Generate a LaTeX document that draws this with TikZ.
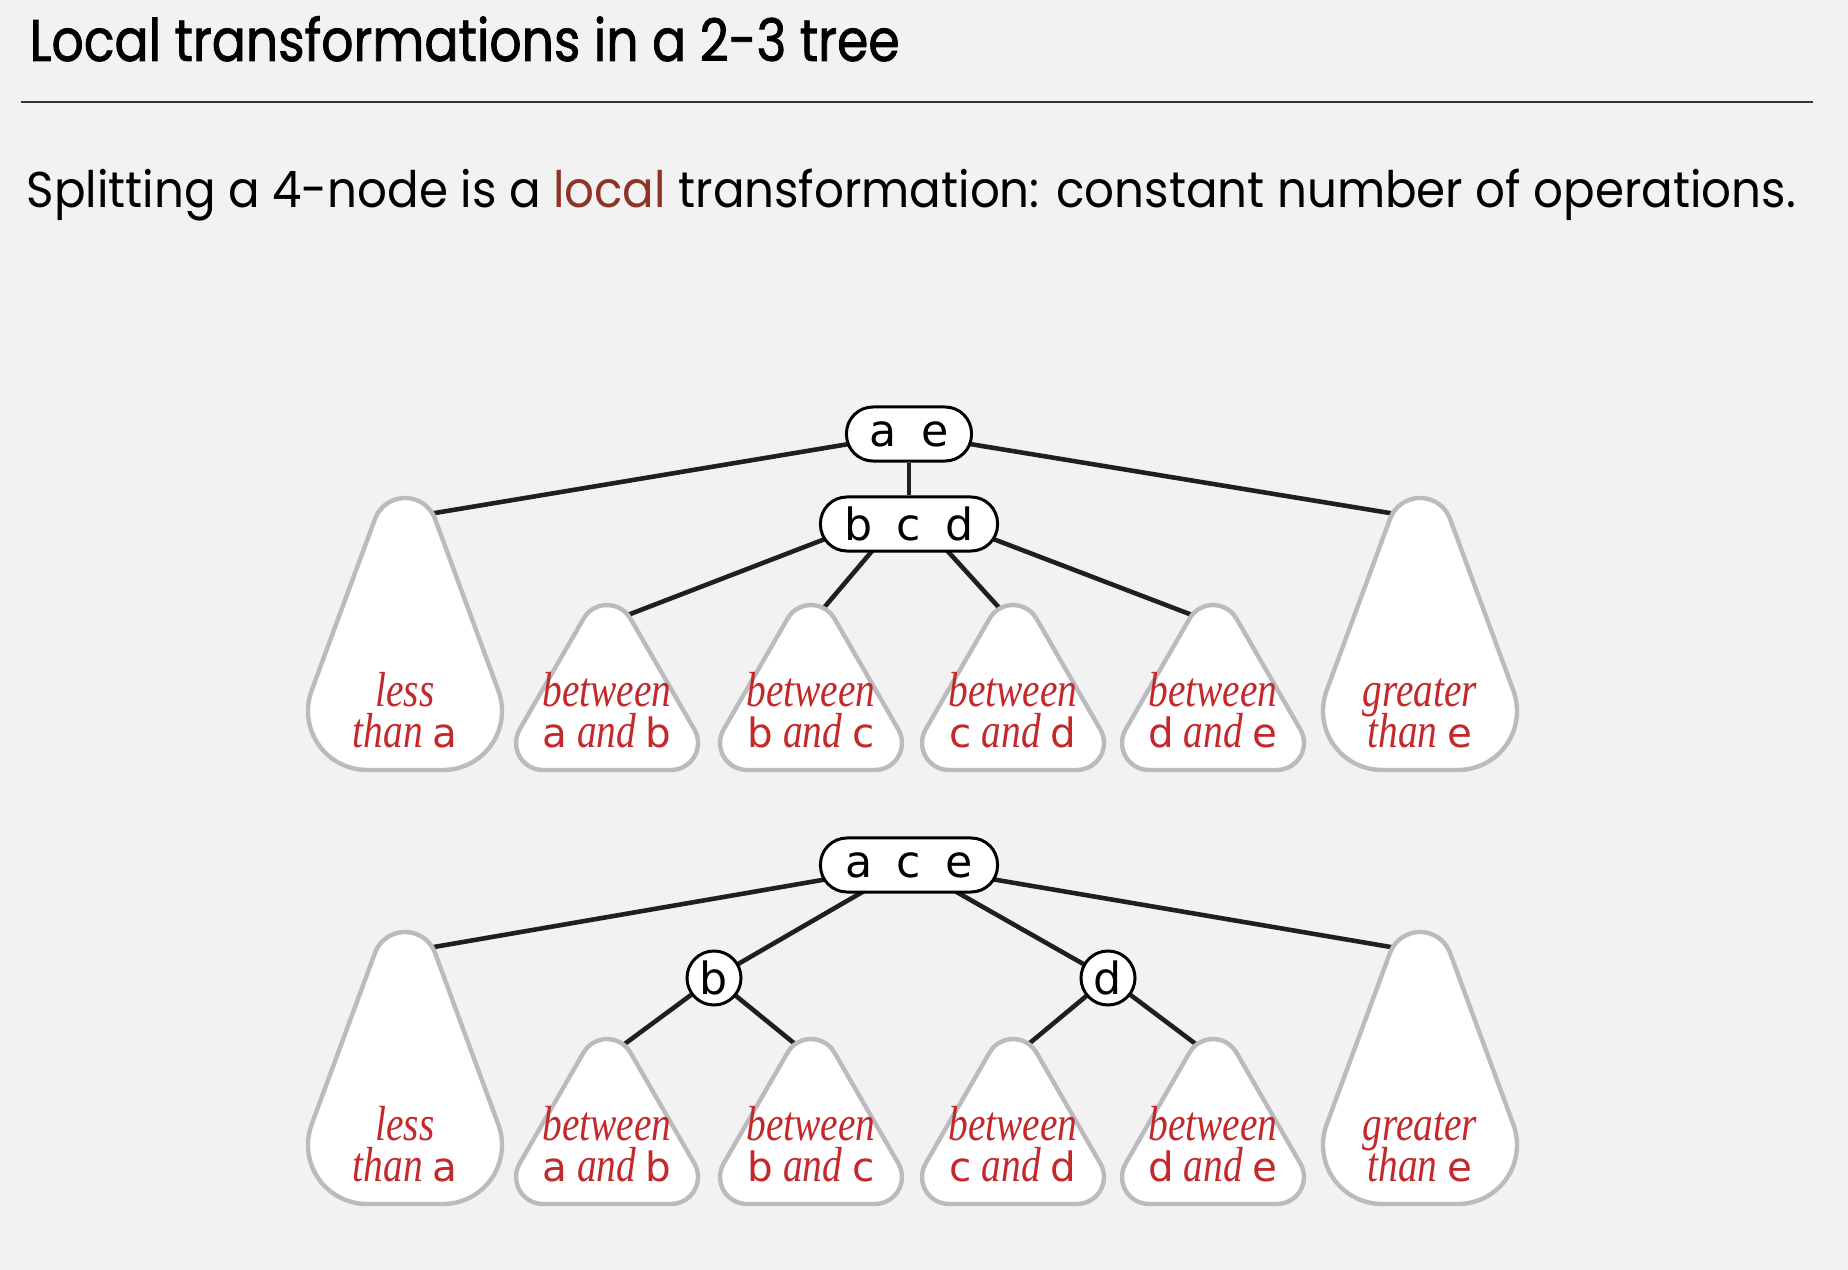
\documentclass[tikz,border=0pt]{standalone}
\usepackage{fontspec}
\setmainfont{Liberation Serif}
\newfontfamily\headfont{Poppins}[FakeStretch=0.86,FakeBold=1.3]
\newfontfamily\ledefont{Poppins}[FakeStretch=0.93]
\newfontfamily\keyfont{DejaVu Sans}
\newfontfamily\notefont{Liberation Serif}[FakeStretch=0.8]
\usetikzlibrary{calc}
\setlength{\lineskiplimit}{-20pt}

\definecolor{paper}{HTML}{F2F2F2}
\definecolor{notered}{HTML}{C4282A}
\definecolor{localred}{HTML}{8E3326}
\definecolor{subgray}{HTML}{BBBBBD}

\pgfdeclarelayer{paperlayer}
\pgfdeclarelayer{edgelayer}
\pgfsetlayers{paperlayer,edgelayer,main}

\newcommand{\kc}[1]{{\keyfont\upshape\fontsize{11.5}{13}\selectfont #1}}

% big subtree: name, apex x, apex y, first line, second line
\newcommand{\bigsub}[5]{%
  \draw[subtree,shift={(#2,#3)}] (0,272) -- (38,272) arc[start angle=90,end angle=-20.5,radius=59]
    -- (30,20.8) arc[start angle=-20.5,end angle=-159.5,radius=32]
    -- (-93.3,192.3) arc[start angle=200.5,end angle=90,radius=59] -- cycle;
  \coordinate (#1) at (#2,#3+20);
  \node[sublabel] (#1-text) at (#2,#3+249) {#4\\#5};}

% small subtree: name, apex x, apex y, first line, second line
\newcommand{\smallsub}[5]{%
  \draw[subtree,shift={(#2,#3)}] (0,165) -- (64,165) arc[start angle=90,end angle=-30,radius=27]
    -- (23.4,13.5) arc[start angle=-30,end angle=-150,radius=27]
    -- (-87.4,124.5) arc[start angle=210,end angle=90,radius=27] -- cycle;
  \coordinate (#1) at (#2,#3+18);
  \node[sublabel] (#1-text) at (#2,#3+142) {#4\\#5};}

\begin{document}
\begin{tikzpicture}[x=0.01cm,y=-0.01cm,
  keynode/.style={draw,fill=white,line width=0.85pt,rounded corners=0.265cm,minimum height=0.54cm,inner sep=0pt,font=\keyfont\fontsize{12.6}{14}\selectfont},
  keycircle/.style={draw,fill=white,line width=0.85pt,circle,minimum size=0.54cm,inner sep=0pt,font=\keyfont\fontsize{12.6}{14}\selectfont},
  link/.style={line width=1.3pt,black!88},
  subtree/.style={draw=subgray,fill=white,line width=1.25pt},
  sublabel/.style={anchor=base,inner sep=0pt,align=center,text=notered,font=\notefont\itshape\fontsize{14}{11.6}\selectfont}]

  \begin{pgfonlayer}{paperlayer}
    \fill[paper] (0,0) rectangle (1848,1270);
  \end{pgfonlayer}
  \useasboundingbox (0,0) rectangle (1848,1270);

  % heading
  \node[anchor=base west,inner sep=0pt,font=\headfont\fontsize{16.7}{20}\selectfont] (title) at (29,61) {Local transformations in a 2-3 tree};
  \draw[line width=0.6pt,black!80] (21,102) -- (1813,102);
  \node[anchor=base west,inner sep=0pt,font=\ledefont\fontsize{14.3}{17}\selectfont] (lede) at (26,208) {Splitting a 4-node is a \textcolor{localred}{local} transformation: constant number of operations.};

  % before the split
  \node[keynode,minimum width=1.25cm] (ae) at (909,434) {a\hspace{0.55em}e};
  \node[keynode,minimum width=1.77cm] (bcd) at (909,524) {b\hspace{0.55em}c\hspace{0.55em}d};
  \bigsub{ltA}{405}{498}{less}{than \kc{a}}
  \smallsub{abA}{607}{605}{between}{\kc{a} and \kc{b}}
  \smallsub{bcA}{811}{605}{between}{\kc{b} and \kc{c}}
  \smallsub{cdA}{1013}{605}{between}{\kc{c} and \kc{d}}
  \smallsub{deA}{1213}{605}{between}{\kc{d} and \kc{e}}
  \bigsub{gtA}{1420}{498}{greater}{than \kc{e}}

  % after the split
  \node[keynode,minimum width=1.77cm] (ace) at (909,865) {a\hspace{0.55em}c\hspace{0.55em}e};
  \node[keycircle] (b) at (714,978) {b};
  \node[keycircle] (d) at (1108,978) {d};
  \bigsub{ltB}{405}{932}{less}{than \kc{a}}
  \smallsub{abB}{607}{1039}{between}{\kc{a} and \kc{b}}
  \smallsub{bcB}{811}{1039}{between}{\kc{b} and \kc{c}}
  \smallsub{cdB}{1013}{1039}{between}{\kc{c} and \kc{d}}
  \smallsub{deB}{1213}{1039}{between}{\kc{d} and \kc{e}}
  \bigsub{gtB}{1420}{932}{greater}{than \kc{e}}

  \begin{pgfonlayer}{edgelayer}
    \draw[link] (ae) -- (bcd);
    \draw[link] (ae.center) -- (ltA);
    \draw[link] (ae.center) -- (gtA);
    \draw[link] ($(bcd.center)+(-45,0)$) -- (abA);
    \draw[link] ($(bcd.center)+(-14,0)$) -- (bcA);
    \draw[link] ($(bcd.center)+(14,0)$) -- (cdA);
    \draw[link] ($(bcd.center)+(45,0)$) -- (deA);

    \draw[link] (ace.center) -- (ltB);
    \draw[link] (ace.center) -- (gtB);
    \draw[link] (ace.center) -- (b.center);
    \draw[link] (ace.center) -- (d.center);
    \draw[link] (b.center) -- (abB);
    \draw[link] (b.center) -- (bcB);
    \draw[link] (d.center) -- (cdB);
    \draw[link] (d.center) -- (deB);
  \end{pgfonlayer}
\end{tikzpicture}
\end{document}
